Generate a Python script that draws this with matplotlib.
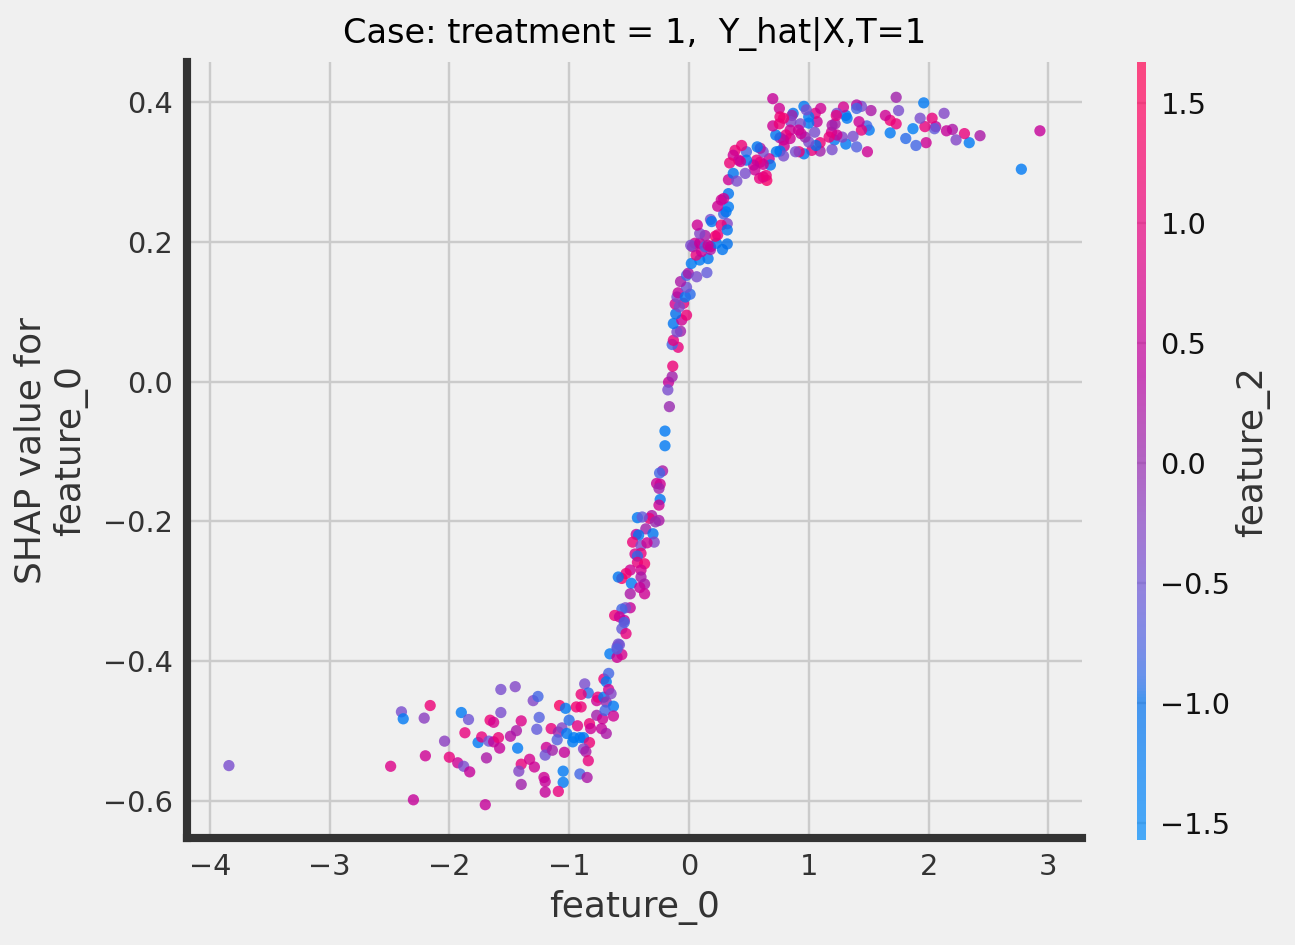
import matplotlib
matplotlib.use("Agg")
import matplotlib.pyplot as plt
from matplotlib.colors import LinearSegmentedColormap, Normalize
from matplotlib.cm import ScalarMappable
import numpy as np

plt.style.use("fivethirtyeight")

# (feature_0, shap value, feature_2)
points = [
    # lower plateau
    (-3.84, -0.550, -0.4), (-2.49, -0.551, 0.8), (-2.30, -0.599, 0.5), (-2.40, -0.473, -0.4),
    (-2.385, -0.483, -1.2), (-2.21, -0.482, -0.2), (-2.16, -0.464, 1.1), (-2.20, -0.536, 0.6),
    (-2.04, -0.515, -0.2), (-2.00, -0.538, 1.0), (-1.93, -0.546, 0.6), (-1.88, -0.551, -0.4),
    (-1.83, -0.559, 0.5), (-1.87, -0.503, 1.0), (-1.90, -0.474, -1.2), (-1.84, -0.484, -0.5),
    (-1.70, -0.606, 0.5), (-1.76, -0.517, -1.2), (-1.73, -0.509, 1.0), (-1.67, -0.515, -0.5),
    (-1.63, -0.516, 0.5), (-1.59, -0.510, 1.1), (-1.58, -0.525, 0.5), (-1.69, -0.539, 0.2),
    (-1.66, -0.485, 1.1), (-1.63, -0.488, 0.7), (-1.57, -0.441, -0.4), (-1.57, -0.474, -0.4),
    (-1.45, -0.437, -0.3), (-1.40, -0.486, 0.8), (-1.49, -0.508, 0.3), (-1.44, -0.500, 0.2),
    (-1.43, -0.525, -1.2), (-1.40, -0.548, 1.0), (-1.42, -0.558, -0.3), (-1.40, -0.577, 0.1),
    (-1.33, -0.541, 0.7), (-1.29, -0.552, 0.6), (-1.30, -0.457, -0.3), (-1.26, -0.451, -0.8),
    (-1.25, -0.481, -0.7), (-1.27, -0.498, -0.6), (-1.21, -0.567, 0.6), (-1.20, -0.573, 0.5),
    (-1.20, -0.588, 0.5), (-1.19, -0.524, 0.6), (-1.20, -0.535, -0.5), (-1.14, -0.528, 0.1),
    (-1.15, -0.497, 1.0), (-1.08, -0.464, 1.4), (-1.03, -0.468, -1.2), (-1.09, -0.502, 0.1),
    (-1.06, -0.496, -0.3), (-1.04, -0.531, 0.5), (-1.05, -0.558, -1.2), (-1.05, -0.574, -1.2),
    (-1.09, -0.587, 1.0), (-1.00, -0.485, -0.9), (-1.02, -0.504, -1.2), (-1.10, -0.513, -0.7),
    (-0.96, -0.510, -1.2), (-0.91, -0.510, -1.2), (-0.88, -0.510, -1.1), (-0.97, -0.516, -1.2),
    (-0.94, -0.466, 1.2), (-0.90, -0.466, 1.1), (-0.93, -0.493, 0.9), (-0.83, -0.490, 1.1),
    (-0.82, -0.497, 0.6), (-0.83, -0.517, 1.1), (-0.88, -0.526, -0.3), (-0.86, -0.530, 0.2),
    (-0.84, -0.543, 1.0), (-0.91, -0.562, -0.8), (-0.85, -0.567, 0.2), (-0.87, -0.433, -0.4),
    (-0.84, -0.446, -0.9), (-0.90, -0.448, 1.1), (-0.77, -0.457, 0.6), (-0.76, -0.452, 1.0),
    (-0.71, -0.452, -1.2), (-0.69, -0.459, 0.0), (-0.63, -0.465, -1.2), (-0.77, -0.478, 0.1),
    (-0.72, -0.483, 0.6), (-0.70, -0.471, -0.8), (-0.63, -0.479, 0.6), (-0.73, -0.497, 0.5),
    (-0.69, -0.504, 0.2), (-0.71, -0.426, 1.1), (-0.67, -0.418, -0.8), (-0.69, -0.430, -1.2),
    (-0.67, -0.441, 0.7), (-0.65, -0.447, -0.3), (-0.66, -0.390, -1.2), (-0.60, -0.380, -0.5),
    (-0.56, -0.391, 0.7), (-0.60, -0.395, 0.6), (-0.59, -0.376, -0.4),
    # steep middle part
    (-0.17, -0.001, 0.5), (-0.176, -0.012, -0.4), (-0.163, -0.036, 0.0), (-0.20, -0.071, -1.2),
    (-0.20, -0.092, -1.2), (-0.22, -0.128, 0.2), (-0.245, -0.131, -0.8), (-0.27, -0.146, 0.5),
    (-0.24, -0.147, 0.6), (-0.25, -0.153, 0.1), (-0.24, -0.169, -1.1), (-0.25, -0.177, 0.6),
    (-0.31, -0.192, 0.2), (-0.25, -0.199, 0.2), (-0.33, -0.196, 1.0), (-0.28, -0.201, 0.0),
    (-0.43, -0.195, -1.2), (-0.39, -0.194, -0.6), (-0.36, -0.211, 0.1), (-0.44, -0.219, 0.5),
    (-0.42, -0.220, -1.1), (-0.30, -0.218, -1.1), (-0.29, -0.230, -0.3), (-0.47, -0.230, 1.1),
    (-0.40, -0.235, -0.4), (-0.35, -0.231, 0.6), (-0.45, -0.247, 0.7), (-0.40, -0.246, 1.0),
    (-0.43, -0.250, -0.9), (-0.43, -0.259, 1.0), (-0.37, -0.261, 1.2), (-0.40, -0.270, 0.7),
    (-0.49, -0.270, 0.6), (-0.525, -0.275, 1.1), (-0.56, -0.282, 1.3), (-0.59, -0.280, -1.1),
    (-0.48, -0.289, -1.2), (-0.40, -0.280, 0.2), (-0.37, -0.290, 0.2), (-0.41, -0.295, 0.5),
    (-0.49, -0.304, 0.2), (-0.37, -0.304, 0.6), (-0.49, -0.324, 0.5), (-0.53, -0.324, -0.4),
    (-0.56, -0.326, -0.8), (-0.62, -0.335, 1.1), (-0.58, -0.337, 0.6), (-0.54, -0.342, 0.5),
    (-0.54, -0.345, -0.8), (-0.56, -0.354, -0.6), (-0.525, -0.361, 1.0), (-0.58, -0.377, -0.5),
    (-0.60, -0.383, -0.7),
    (-0.14, 0.007, 0.1), (-0.135, 0.022, 1.1), (-0.09, 0.049, 1.0), (-0.14, 0.053, -0.8),
    (-0.13, 0.059, 1.0), (-0.07, 0.072, 0.1), (-0.10, 0.071, -0.4), (-0.13, 0.083, -1.1),
    (-0.06, 0.088, 0.6), (-0.11, 0.097, -1.0), (-0.02, 0.095, 1.1), (-0.115, 0.111, 0.7),
    (-0.045, 0.112, 1.0), (-0.08, 0.107, -0.4), (-0.10, 0.121, -0.4), (-0.09, 0.127, 0.5),
    (-0.03, 0.121, -1.2), (0.01, 0.125, -0.9), (-0.02, 0.135, -0.5), (-0.07, 0.143, 0.2),
    (-0.02, 0.152, -0.8), (-0.005, 0.155, 0.2), (0.065, 0.150, -0.4), (0.15, 0.156, -0.6),
    (0.02, 0.169, -1.2), (0.09, 0.174, -1.2), (0.16, 0.176, -1.1), (0.06, 0.181, 1.0),
    (0.105, 0.186, 0.6), (0.18, 0.189, 0.2), (0.03, 0.193, 0.2), (0.05, 0.198, 0.6),
    (0.015, 0.195, -0.4), (0.09, 0.198, 0.5), (0.135, 0.193, -0.8), (0.18, 0.193, 0.5),
    (0.23, 0.198, -1.2), (0.28, 0.189, -1.1), (0.32, 0.197, -1.0), (0.22, 0.208, 1.3),
    (0.24, 0.210, 1.1), (0.135, 0.209, 0.2), (0.09, 0.212, -0.3), (0.07, 0.224, 0.6),
    (0.18, 0.232, -0.4), (0.19, 0.229, -1.1), (0.29, 0.240, -0.8), (0.31, 0.243, -1.1),
    (0.24, 0.251, 0.6), (0.33, 0.250, -1.2), (0.32, 0.226, -0.3), (0.27, 0.224, 1.1),
    (0.32, 0.217, -1.1), (0.16, 0.195, 0.6), (0.27, 0.260, 0.6),
    # upper plateau
    (2.93, 0.359, 0.5), (2.775, 0.304, -1.2), (2.43, 0.352, 0.2), (2.34, 0.342, -1.2),
    (2.30, 0.355, 1.0), (2.23, 0.346, -0.3), (2.20, 0.361, 0.2), (2.15, 0.359, 0.5),
    (2.13, 0.384, -0.3), (2.06, 0.365, 0.3), (2.03, 0.377, 1.0), (2.05, 0.362, -0.6),
    (1.97, 0.365, 1.0), (1.93, 0.377, -0.4), (1.98, 0.342, 0.6), (1.96, 0.399, -1.2),
    (1.895, 0.338, -0.8), (1.87, 0.362, -1.3), (1.81, 0.348, -0.9), (1.75, 0.388, -0.4),
    (1.73, 0.407, 0.1), (1.73, 0.369, 1.0), (1.68, 0.374, 1.1), (1.64, 0.381, 0.6),
    (1.68, 0.356, -1.2), (1.52, 0.388, 0.2), (1.49, 0.329, 0.6), (1.505, 0.360, -1.2),
    (1.485, 0.366, -0.8), (1.44, 0.360, 1.0), (1.42, 0.372, 0.6), (1.44, 0.394, -0.4),
    (1.40, 0.396, 0.3), (1.40, 0.391, -0.8), (1.40, 0.336, -0.7), (1.37, 0.351, -0.4),
    (1.31, 0.340, -1.2), (1.32, 0.377, -1.2), (1.31, 0.381, -1.1), (1.29, 0.393, 0.7),
    (1.235, 0.384, -0.4), (1.215, 0.346, -1.2), (1.28, 0.350, -0.3), (1.235, 0.353, 0.6),
    (1.19, 0.357, 0.7), (1.17, 0.350, 1.0), (1.195, 0.367, 0.2), (1.22, 0.369, 0.1),
    (1.195, 0.332, -0.4), (1.23, 0.381, 0.9), (1.095, 0.330, 0.1), (1.095, 0.342, 1.1),
    (1.025, 0.331, 1.0), (1.06, 0.338, -1.0), (1.00, 0.343, -0.4), (0.97, 0.350, 0.0),
    (0.96, 0.326, -1.1), (0.92, 0.329, 1.1), (0.89, 0.329, -0.4), (0.935, 0.355, 0.5),
    (1.05, 0.357, -0.4), (1.07, 0.372, 0.5), (1.055, 0.384, 0.9), (1.10, 0.391, 0.6),
    (1.00, 0.370, -1.2), (1.00, 0.379, -1.2), (0.96, 0.394, -1.2), (0.98, 0.389, -0.4),
    (0.93, 0.369, -0.4), (0.87, 0.384, -1.1), (0.86, 0.381, 0.1), (0.85, 0.372, -0.3),
    (0.915, 0.360, 0.6), (0.845, 0.360, 0.6), (0.845, 0.348, 0.6), (0.81, 0.353, 1.0),
    (0.79, 0.346, 0.6), (0.76, 0.349, 0.2), (0.795, 0.337, 0.6), (0.76, 0.330, -1.1),
    (0.79, 0.323, -0.4), (0.725, 0.353, -1.1), (0.70, 0.366, 0.6), (0.755, 0.391, 0.6),
    (0.70, 0.405, 0.5), (0.76, 0.379, 1.1), (0.79, 0.377, 1.2), (0.755, 0.369, 1.1),
    (0.73, 0.329, -1.1), (0.65, 0.288, 1.3), (0.62, 0.293, 0.7), (0.59, 0.291, 1.0),
    (0.645, 0.295, 1.1), (0.67, 0.319, 0.6), (0.68, 0.310, -1.1), (0.62, 0.311, 0.6),
    (0.595, 0.314, 0.7), (0.62, 0.329, -0.4), (0.595, 0.334, 0.2), (0.57, 0.336, -1.1),
    (0.565, 0.317, 1.0), (0.55, 0.303, 0.6), (0.54, 0.310, 0.5), (0.48, 0.329, -0.8),
    (0.48, 0.317, -1.1), (0.47, 0.298, -0.4), (0.44, 0.338, 1.1), (0.415, 0.317, 0.6),
    (0.43, 0.315, 0.6), (0.385, 0.331, 1.1), (0.37, 0.324, 0.6), (0.34, 0.313, 1.1),
    (0.33, 0.289, 0.6), (0.37, 0.298, -1.1), (0.40, 0.287, -0.4), (0.33, 0.269, -1.1),
    (0.29, 0.262, 0.6),
]

feature_0 = [p[0] for p in points]
shap_values = [p[1] for p in points]
feature_2 = [p[2] for p in points]

x_ticks = [-4, -3, -2, -1, 0, 1, 2, 3]
y_ticks = [-0.6, -0.4, -0.2, 0.0, 0.2, 0.4]
cb_ticks = [-1.5, -1.0, -0.5, 0.0, 0.5, 1.0, 1.5]


# shap-like red/blue colormap built in LCh space
def lch2rgb(l, c, h):
    a = c * np.cos(h)
    b = c * np.sin(h)
    fy = (l + 16) / 116
    fx = fy + a / 500
    fz = fy - b / 200

    def finv(t):
        return np.where(t > 6 / 29, t ** 3, 3 * (6 / 29) ** 2 * (t - 4 / 29))

    xyz = np.array([0.95047 * finv(fx), finv(fy), 1.08883 * finv(fz)])
    m = np.array([[3.2406, -1.5372, -0.4986],
                  [-0.9689, 1.8758, 0.0415],
                  [0.0557, -0.2040, 1.0570]])
    rgb = m @ xyz
    rgb = np.where(rgb > 0.0031308, 1.055 * np.clip(rgb, 0, None) ** (1 / 2.4) - 0.055, 12.92 * rgb)
    return np.clip(rgb, 0, 1)


nsteps = 100
l_vals = list(np.linspace(54, 40, nsteps // 2)) + list(np.linspace(40, 54, nsteps // 2))
c_vals = np.linspace(70, 90, nsteps)
h_vals = np.linspace(4.6588, 0.35470565 + 2 * np.pi, nsteps)
cols = [lch2rgb(l, c, h) for l, c, h in zip(l_vals, c_vals, h_vals)]
red_blue = LinearSegmentedColormap.from_list("red_blue", cols)

W, H, DPI = 1295, 945, 172.67
fig = plt.figure(figsize=(W / DPI, H / DPI), dpi=DPI)
fig.patch.set_facecolor("#f0f0f0")
ax = fig.add_axes([0.1444, 0.113, 0.691, 0.821])
ax.set_facecolor("#f0f0f0")

norm = Normalize(vmin=-1.57, vmax=1.67)
ax.scatter(feature_0, shap_values, c=feature_2, cmap=red_blue, norm=norm,
           s=22, alpha=0.8, linewidth=0, zorder=3)

ax.set_xlim(-4.19, 3.28)
ax.set_ylim(-0.654, 0.457)
ax.set_xticks(x_ticks)
ax.set_yticks(y_ticks)
ax.grid(True, color="#cbcbcb", linewidth=1.0)
ax.set_axisbelow(True)
for side in ["top", "right"]:
    ax.spines[side].set_visible(False)
for side in ["left", "bottom"]:
    ax.spines[side].set_visible(True)
    ax.spines[side].set_color("#333333")
    ax.spines[side].set_linewidth(3.4)
ax.tick_params(labelsize=12, labelcolor="#333333", length=0, pad=6)

ax.set_xlabel("feature_0", fontsize=15, color="#333333", labelpad=4)
ax.set_ylabel("SHAP value for\nfeature_0", fontsize=15, color="#333333", labelpad=6)
ax.set_title("Case: treatment = 1,  Y_hat|X,T=1", fontsize=14, pad=8)

cax = fig.add_axes([0.878, 0.111, 0.007, 0.823])
cb = fig.colorbar(ScalarMappable(norm=norm, cmap=red_blue), cax=cax, ticks=cb_ticks)
cb.solids.set_alpha(0.7)
cb.outline.set_visible(False)
cb.ax.tick_params(labelsize=12, length=0, pad=6, labelcolor="#111111")
cb.set_label("feature_2", fontsize=15, color="#333333", labelpad=2)

fig.savefig("out.png", dpi=DPI, facecolor=fig.get_facecolor())
